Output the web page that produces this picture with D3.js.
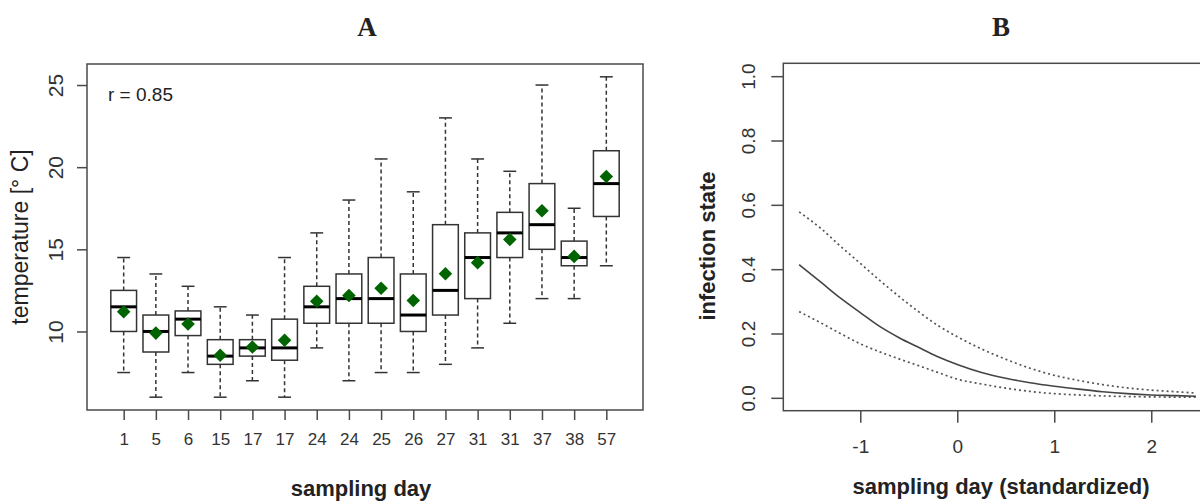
<!DOCTYPE html>
<html lang="en">
<head>
    <meta charset="UTF-8">
    <title>Temperature and infection state by sampling day</title>
    <script src="https://d3js.org/d3.v7.min.js"></script>
    <style>
        body { margin: 0; background: #fff; }
        svg text { font-family: "Liberation Sans", Arial, sans-serif; fill: #222; }
        .panel-title { font-family: "Liberation Serif", "Times New Roman", serif; font-weight: bold; }
    </style>
</head>
<body>
    <svg id="chart" width="1200" height="502"></svg>

    <script>
        // Panel A: boxplot data, one entry per sampling day
        const dayLabels   = ["1", "5", "6", "15", "17", "17", "24", "24", "25", "26", "27", "31", "31", "37", "38", "57"];
        const whiskerLow  = [7.5, 6, 7.5, 6, 7, 6, 9, 7, 7.5, 7.5, 8, 9, 10.5, 12, 12, 14];
        const q1          = [10, 8.75, 9.75, 8, 8.5, 8.25, 10.5, 10.5, 10.5, 10, 11, 12, 14.5, 15, 14, 17];
        const medians     = [11.5, 10, 10.75, 8.5, 9, 9, 11.5, 12, 12, 11, 12.5, 14.5, 16, 16.5, 14.5, 19];
        const q3          = [12.5, 11, 11.25, 9.5, 9.5, 10.75, 12.75, 13.5, 14.5, 13.5, 16.5, 16, 17.25, 19, 15.5, 21];
        const whiskerHigh = [14.5, 13.5, 12.75, 11.5, 11, 14.5, 16, 18, 20.5, 18.5, 23, 20.5, 19.75, 25, 17.5, 25.5];
        const means       = [11.2, 9.9, 10.45, 8.55, 9.05, 9.47, 11.84, 12.19, 12.63, 11.88, 13.51, 14.19, 15.6, 17.35, 14.57, 19.43];
        const tempTicks   = [10, 15, 20, 25];

        // Panel B: fitted curve and confidence bounds
        const dayStd   = [-1.63, -1.4, -1.2, -1.0, -0.8, -0.6, -0.4, -0.2, 0, 0.25, 0.5, 0.75, 1.0, 1.25, 1.5, 1.75, 2.0, 2.25, 2.46];
        const fitMean  = [0.414, 0.358, 0.309, 0.265, 0.222, 0.187, 0.157, 0.128, 0.104, 0.079, 0.061, 0.047, 0.036, 0.027, 0.019, 0.013, 0.009, 0.007, 0.005];
        const fitUpper = [0.578, 0.525, 0.470, 0.418, 0.365, 0.315, 0.268, 0.225, 0.190, 0.152, 0.120, 0.092, 0.070, 0.054, 0.041, 0.031, 0.024, 0.019, 0.015];
        const fitLower = [0.268, 0.232, 0.199, 0.168, 0.143, 0.121, 0.100, 0.079, 0.058, 0.043, 0.030, 0.020, 0.013, 0.009, 0.006, 0.004, 0.003, 0.002, 0.002];
        const probTicks = [0, 0.2, 0.4, 0.6, 0.8, 1.0];
        const stdTicks  = [-1, 0, 1, 2];

        const svg = d3.select("#chart");
        const frameColor = "#4a4a4a";

        // ---------- Panel A ----------
        const a = {left: 87, right: 643, top: 64, bottom: 410};
        const xA = d3.scaleLinear().domain([-0.14, 17.14]).range([a.left, a.right]);
        const yA = d3.scaleLinear().domain([5.22, 26.28]).range([a.bottom, a.top]);
        const idx = d3.range(dayLabels.length);
        const pos = i => xA(i + 1);
        const boxW = xA(0.8) - xA(0);
        const capW = boxW / 2;

        svg.append("text").attr("class", "panel-title")
           .attr("x", 367).attr("y", 36).attr("text-anchor", "middle")
           .attr("font-size", "27px").text("A");

        // whiskers
        const gA = svg.append("g");
        idx.forEach(i => {
            const cx = pos(i);
            gA.append("line").attr("x1", cx).attr("x2", cx)
              .attr("y1", yA(q3[i])).attr("y2", yA(whiskerHigh[i]))
              .attr("stroke", "#333").attr("stroke-width", 1.5).attr("stroke-dasharray", "4,3");
            gA.append("line").attr("x1", cx).attr("x2", cx)
              .attr("y1", yA(q1[i])).attr("y2", yA(whiskerLow[i]))
              .attr("stroke", "#333").attr("stroke-width", 1.5).attr("stroke-dasharray", "4,3");
            gA.append("line").attr("x1", cx - capW / 2).attr("x2", cx + capW / 2)
              .attr("y1", yA(whiskerHigh[i])).attr("y2", yA(whiskerHigh[i]))
              .attr("stroke", "#333").attr("stroke-width", 1.5);
            gA.append("line").attr("x1", cx - capW / 2).attr("x2", cx + capW / 2)
              .attr("y1", yA(whiskerLow[i])).attr("y2", yA(whiskerLow[i]))
              .attr("stroke", "#333").attr("stroke-width", 1.5);
        });

        // boxes
        gA.selectAll("rect.box").data(idx).enter().append("rect")
          .attr("x", i => pos(i) - boxW / 2)
          .attr("y", i => yA(q3[i]))
          .attr("width", boxW)
          .attr("height", i => yA(q1[i]) - yA(q3[i]))
          .attr("fill", "#fff").attr("stroke", "#333").attr("stroke-width", 1.5);

        // medians
        gA.selectAll("line.med").data(idx).enter().append("line")
          .attr("x1", i => pos(i) - boxW / 2).attr("x2", i => pos(i) + boxW / 2)
          .attr("y1", i => yA(medians[i])).attr("y2", i => yA(medians[i]))
          .attr("stroke", "#000").attr("stroke-width", 3);

        // means
        const diamond = d3.symbol().type(d3.symbolSquare).size(92);
        gA.selectAll("path.mean").data(idx).enter().append("path")
          .attr("d", diamond)
          .attr("transform", i => `translate(${pos(i)},${yA(means[i])}) rotate(45)`)
          .attr("fill", "#006400");

        // frame
        svg.append("rect").attr("x", a.left).attr("y", a.top)
           .attr("width", a.right - a.left).attr("height", a.bottom - a.top)
           .attr("fill", "none").attr("stroke", frameColor).attr("stroke-width", 1.5);

        // axes
        const axLeftA = svg.append("g").attr("transform", `translate(${a.left},0)`)
           .call(d3.axisLeft(yA).tickValues(tempTicks).tickSize(10).tickSizeOuter(0));
        axLeftA.select(".domain").remove();
        axLeftA.selectAll("line").attr("stroke", frameColor).attr("stroke-width", 1.5);
        axLeftA.selectAll("text")
           .attr("x", null).attr("y", null).attr("dy", null)
           .attr("text-anchor", "middle")
           .attr("transform", "translate(-24,0) rotate(-90)")
           .style("font-size", "21px").style("fill", "#333");

        const axBottomA = svg.append("g").attr("transform", `translate(0,${a.bottom})`)
           .call(d3.axisBottom(d3.scaleLinear().domain(xA.domain()).range(xA.range()))
                 .tickValues(idx.map(i => i + 1)).tickFormat(d => dayLabels[d - 1])
                 .tickSize(10).tickSizeOuter(0));
        axBottomA.select(".domain").remove();
        axBottomA.selectAll("line").attr("stroke", frameColor).attr("stroke-width", 1.5);
        axBottomA.selectAll("text").attr("dy", null).attr("y", 35)
           .style("font-size", "17px").style("fill", "#333");

        svg.append("text").attr("x", 108).attr("y", 101)
           .attr("font-size", "19px").text("r = 0.85");

        svg.append("text")
           .attr("transform", `translate(28,${237}) rotate(-90)`)
           .attr("text-anchor", "middle").attr("font-size", "23px")
           .text("temperature [° C]");

        svg.append("text").attr("x", 361).attr("y", 496)
           .attr("text-anchor", "middle").attr("font-size", "22px").attr("font-weight", "bold")
           .text("sampling day");

        // ---------- Panel B ----------
        const b = {left: 783.3, right: 1211.4, top: 63.3, bottom: 410.7};
        const xB = d3.scaleLinear().domain([-1.7936, 2.62]).range([b.left, b.right]);
        const yB = d3.scaleLinear().domain([-0.04, 1.04]).range([b.bottom, b.top]);

        svg.append("text").attr("class", "panel-title")
           .attr("x", 1001).attr("y", 36).attr("text-anchor", "middle")
           .attr("font-size", "27px").text("B");

        const line = (ys) => d3.line()
            .x((d, i) => xB(dayStd[i]))
            .y(d => yB(d))
            .curve(d3.curveMonotoneX)(ys);

        svg.append("path").attr("d", line(fitUpper))
           .attr("fill", "none").attr("stroke", "#555").attr("stroke-width", 1.7).attr("stroke-dasharray", "2,3");
        svg.append("path").attr("d", line(fitLower))
           .attr("fill", "none").attr("stroke", "#555").attr("stroke-width", 1.7).attr("stroke-dasharray", "2,3");
        svg.append("path").attr("d", line(fitMean))
           .attr("fill", "none").attr("stroke", "#444").attr("stroke-width", 1.6);

        svg.append("rect").attr("x", b.left).attr("y", b.top)
           .attr("width", b.right - b.left).attr("height", b.bottom - b.top)
           .attr("fill", "none").attr("stroke", frameColor).attr("stroke-width", 1.5);

        const axLeftB = svg.append("g").attr("transform", `translate(${b.left},0)`)
           .call(d3.axisLeft(yB).tickValues(probTicks).tickFormat(d3.format(".1f")).tickSize(12).tickSizeOuter(0));
        axLeftB.select(".domain").remove();
        axLeftB.selectAll("line").attr("stroke", frameColor).attr("stroke-width", 1.5);
        axLeftB.selectAll("text")
           .attr("x", null).attr("y", null).attr("dy", null)
           .attr("text-anchor", "middle")
           .attr("transform", "translate(-28,0) rotate(-90)")
           .style("font-size", "19px").style("fill", "#333");

        const axBottomB = svg.append("g").attr("transform", `translate(0,${b.bottom})`)
           .call(d3.axisBottom(xB).tickValues(stdTicks).tickFormat(d => String(d)).tickSize(12).tickSizeOuter(0));
        axBottomB.select(".domain").remove();
        axBottomB.selectAll("line").attr("stroke", frameColor).attr("stroke-width", 1.5);
        axBottomB.selectAll("text").attr("dy", null).attr("y", 42)
           .style("font-size", "19px").style("fill", "#333");

        svg.append("text")
           .attr("transform", `translate(715,${246}) rotate(-90)`)
           .attr("text-anchor", "middle").attr("font-size", "22px").attr("font-weight", "bold")
           .text("infection state");

        svg.append("text").attr("x", 1001).attr("y", 494)
           .attr("text-anchor", "middle").attr("font-size", "22px").attr("font-weight", "bold")
           .text("sampling day (standardized)");
    </script>
</body>
</html>
